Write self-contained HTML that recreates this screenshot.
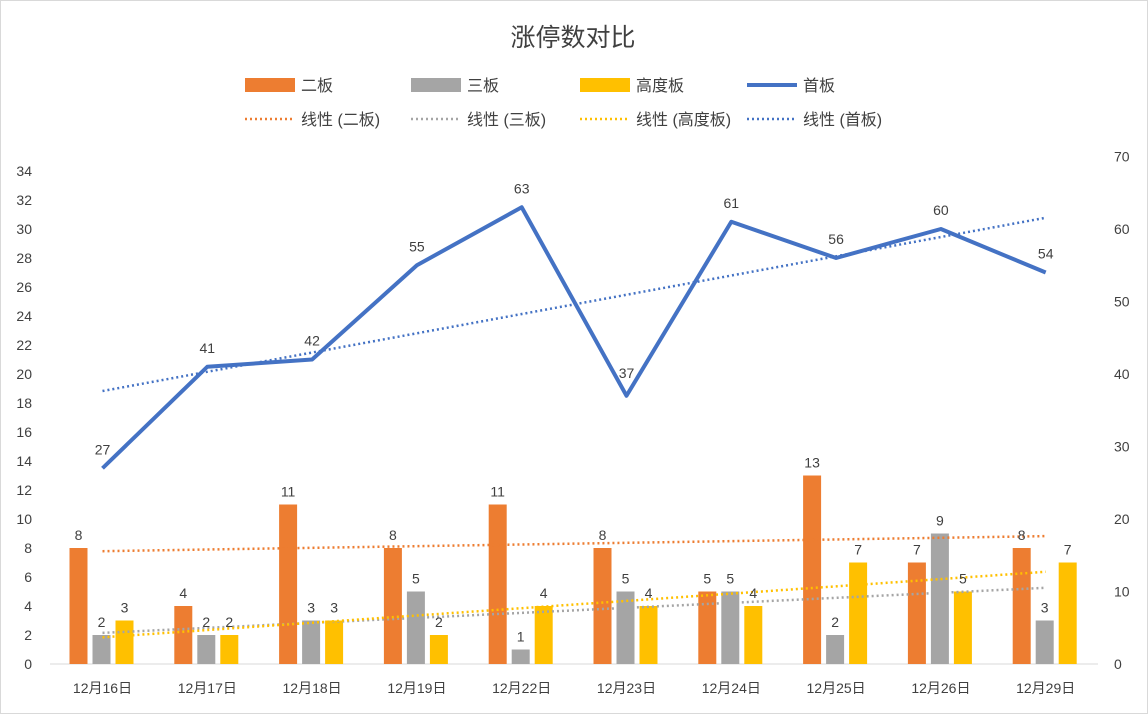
<!DOCTYPE html>
<html><head><meta charset="utf-8"><style>body{margin:0;background:#fff}svg{display:block}text{font-family:"Liberation Sans","Noto Sans CJK SC",sans-serif;fill:#404040}</style></head><body>
<svg width="1148" height="714" xmlns="http://www.w3.org/2000/svg">
<rect x="0.5" y="0.5" width="1147" height="713" fill="#fff" stroke="#d9d9d9"/>
<text x="573" y="46" font-size="25" text-anchor="middle" fill="#595959">涨停数对比</text>
<g font-size="16">
<rect x="245" y="78" width="50" height="14" fill="#ED7D31"/><text x="301" y="91">二板</text>
<rect x="411" y="78" width="50" height="14" fill="#A5A5A5"/><text x="467" y="91">三板</text>
<rect x="580" y="78" width="50" height="14" fill="#FFC000"/><text x="636" y="91">高度板</text>
<line x1="747" y1="85" x2="797" y2="85" stroke="#4472C4" stroke-width="4"/><text x="803" y="91">首板</text>
<line x1="245" y1="119" x2="295" y2="119" stroke="#ED7D31" stroke-width="2.5" stroke-dasharray="2,3"/><text x="301" y="125">线性 (二板)</text>
<line x1="411" y1="119" x2="461" y2="119" stroke="#A5A5A5" stroke-width="2.5" stroke-dasharray="2,3"/><text x="467" y="125">线性 (三板)</text>
<line x1="580" y1="119" x2="630" y2="119" stroke="#FFC000" stroke-width="2.5" stroke-dasharray="2,3"/><text x="636" y="125">线性 (高度板)</text>
<line x1="747" y1="119" x2="797" y2="119" stroke="#4472C4" stroke-width="2.5" stroke-dasharray="2,3"/><text x="803" y="125">线性 (首板)</text>
</g>
<g font-size="14" text-anchor="end" id="ly"></g>
<g font-size="14" id="ry"></g>
<line x1="50" y1="664" x2="1098" y2="664" stroke="#d9d9d9"/>
<g id="bars"></g>
<g id="tr" fill="none" stroke-width="2.5" stroke-dasharray="2,3"></g>
<polyline id="ln" fill="none" stroke="#4472C4" stroke-width="4" stroke-linejoin="round"/>
<g id="lab" font-size="14" text-anchor="middle"></g>
</svg>
<script>
var NS="http://www.w3.org/2000/svg";
function el(p,t,a,txt){var e=document.createElementNS(NS,t);for(var k in a)e.setAttribute(k,a[k]);if(txt!==undefined)e.textContent=txt;document.getElementById(p).appendChild(e);return e;}
for(var v=0;v<=34;v+=2)el("ly","text",{x:32,y:664-14.5*v+5},v);
for(var v=0;v<=70;v+=10)el("ry","text",{x:1114,y:664-7.25*v+5},v);
var A=[8,4,11,8,11,8,5,13,7,8],B=[2,2,3,5,1,5,5,2,9,3],C=[3,2,3,2,4,4,4,7,5,7],D=[27,41,42,55,63,37,61,56,60,54];
var days=["16","17","18","19","22","23","24","25","26","29"];
var pts=[];
for(var i=0;i<10;i++){var c=102.5+104.8*i;
[[A,-24,"#ED7D31"],[B,-1,"#A5A5A5"],[C,22,"#FFC000"]].forEach(function(s){var v=s[0][i],h=14.5*v;
el("bars","rect",{x:c+s[1]-9,y:664-h,width:18,height:h,fill:s[2]});
el("lab","text",{x:c+s[1],y:664-h-8},v);});
var y=664-7.25*D[i];pts.push(c+","+y);
el("lab","text",{x:c,y:y-(i==5?18:14)},D[i]);
el("lab","text",{x:c,y:693},"12月"+days[i]+"日");}
document.getElementById("ln").setAttribute("points",pts.join(" "));
var x1=102.5,x2=102.5+104.8*9;
[[7.78,8.82,14.5,"#ED7D31"],[2.145,5.255,14.5,"#A5A5A5"],[1.84,6.36,14.5,"#FFC000"],[37.65,61.55,7.25,"#4472C4"]].forEach(function(t){
el("tr","line",{x1:x1,y1:664-t[2]*t[0],x2:x2,y2:664-t[2]*t[1],stroke:t[3]});});
</script>
</body></html>
